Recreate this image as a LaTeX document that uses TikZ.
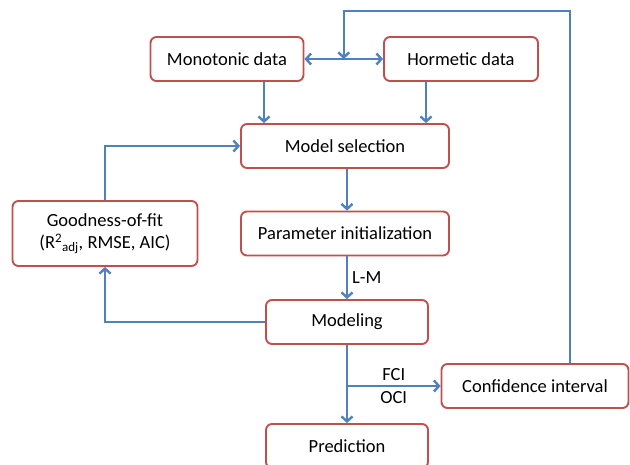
\documentclass[tikz,border=0pt]{standalone}
\usepackage{fontspec}
\setmainfont{Carlito}
\usepackage{tikz}
\usetikzlibrary{
	positioning,
	calc,
	arrows.meta
}
\definecolor{boxred}{RGB}{192,80,77}
\definecolor{flowblue}{RGB}{79,129,189}

\begin{document}
\begin{tikzpicture}[x=1pt,y=-1pt,
		block/.style={draw=boxred,line width=1.9pt,rounded corners=6pt,fill=white,
			minimum height=44pt,inner sep=2pt,align=center,
			font=\fontsize{18.5}{22}\selectfont},
		flow/.style={draw=flowblue,line width=2.4pt,
			-{Straight Barb[length=5pt,width=11pt]}},
		lbl/.style={font=\fontsize{18.5}{22}\selectfont,inner sep=4pt}
	]
		\useasboundingbox (0,0) rectangle (630,464);

		\node[block,minimum width=153pt] (mono)  at (227,59)    {Monotonic data};
		\node[block,minimum width=154pt] (horm)  at (461,59)    {Hormetic data};
		\node[block,minimum width=208pt] (sel)   at (345,146)   {Model selection};
		\node[block,minimum width=208pt] (init)  at (345,233.5) {Parameter initialization};
		\node[block,minimum width=185pt,minimum height=65pt]
		                                 (gof)   at (105,233.5) {Goodness-of-fit\\(R\textsuperscript{2}\textsubscript{adj}, RMSE, AIC)};
		\node[block,minimum width=162pt] (model) at (347,322)   {Modeling};
		\node[block,minimum width=187pt] (ci)    at (535,386)   {Confidence interval};
		\node[block,minimum width=162pt] (pred)  at (347,446)   {Prediction};

		\coordinate (mid)  at ($(mono.east)!0.5!(horm.west)$);
		\coordinate (loop) at (570,11);

		\draw[flow,{Straight Barb[length=5pt,width=11pt]}-{Straight Barb[length=5pt,width=11pt]}]
			(mono.east) -- (horm.west);
		\draw[flow] (ci.north -| loop) -- (loop) -| (mid);
		\draw[flow] ([xshift=37pt]mono.south) -- ([xshift=37pt]mono.south |- sel.north);
		\draw[flow] ([xshift=-35pt]horm.south) -- ([xshift=-35pt]horm.south |- sel.north);
		\draw[flow] (gof.north) |- (sel.west);
		\draw[flow] (sel.south -| model) -- (init.north -| model);
		\draw[flow] (init.south -| model) -- node[lbl,right] {L-M} (model.north);
		\draw[flow] (model.west) -| (gof.south);
		\draw[flow] (model.south) -- (pred.north);
		\draw[flow] (model.south |- ci.west) -- node[lbl,above] {FCI} node[lbl,below] {OCI} (ci.west);
\end{tikzpicture}
\end{document}
